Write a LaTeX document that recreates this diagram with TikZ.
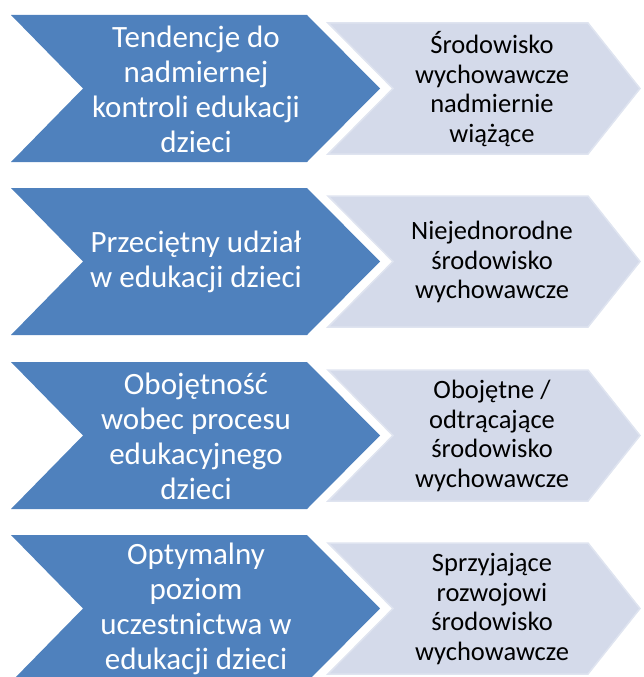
\documentclass[tikz,border=0pt]{standalone}
\usepackage{fontspec}
\setmainfont{Carlito}
\definecolor{darkchev}{HTML}{4F81BD}
\definecolor{lightchev}{HTML}{D4DAEA}
\definecolor{lightedge}{HTML}{DFE4F0}
\tikzset{
  leftchev/.style={fill=darkchev},
  rightchev/.style={fill=lightchev, draw=lightedge, line width=1.5pt, line join=miter},
  lefttext/.style={text=white, font=\fontsize{31}{35}\selectfont, align=center, inner sep=0pt},
  righttext/.style={text=black, font=\fontsize{26.5}{29.5}\selectfont, align=center, inner sep=0pt},
}
\begin{document}
\begin{tikzpicture}[x=1pt,y=-1pt]
  \useasboundingbox (0,0) rectangle (643,677);
  \clip (0,0) rectangle (643,677);
  \foreach \t/\lt/\rt [count=\i] in {
    15/{Tendencje do\\nadmiernej\\kontroli edukacji\\dzieci}/{Środowisko\\wychowawcze\\nadmiernie\\wiążące},
    188/{Przeciętny udział\\w edukacji dzieci}/{Niejednorodne\\środowisko\\wychowawcze},
    362/{Obojętność\\wobec procesu\\edukacyjnego\\dzieci}/{Obojętne /\\odtrącające\\środowisko\\wychowawcze},
    535/{Optymalny\\poziom\\uczestnictwa w\\edukacji dzieci}/{Sprzyjające\\rozwojowi\\środowisko\\wychowawcze}} {
    % light chevron (outcome), drawn first so the dark one overlaps it
    \draw[rightchev] (328,\t+8) -- (588,\t+8) -- (640,\t+73.5) -- (588,\t+139)
      -- (328,\t+139) -- (393,\t+73.5) -- cycle;
    % dark chevron (attitude)
    \fill[leftchev] (11,\t) -- (307,\t) -- (380,\t+73.5) -- (307,\t+147)
      -- (11,\t+147) -- (83,\t+73.5) -- cycle;
    \node[lefttext] (L\i) at (196,\t+74) {\lt};
    \node[righttext] (R\i) at (492,\t+74) {\rt};
  }
\end{tikzpicture}
\end{document}
